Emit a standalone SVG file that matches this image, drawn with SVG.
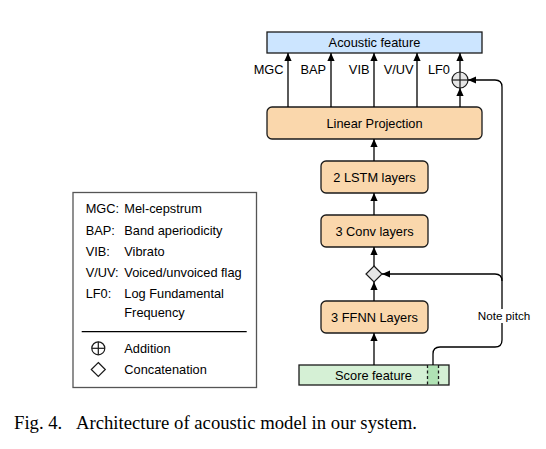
<svg xmlns="http://www.w3.org/2000/svg" width="546" height="449" viewBox="0 0 546 449">
<style>
.t{font-family:"Liberation Sans",Arial,sans-serif;font-size:12.8px;fill:#000}
.c{text-anchor:middle}
.e{text-anchor:end}
.box{fill:#fad7ac;stroke:#1a1a1a;stroke-width:1.3}
.ln{fill:none;stroke:#000;stroke-width:1.3}
.arr{fill:none;stroke:#000;stroke-width:1.3;marker-end:url(#ah)}
.cap{font-family:"Liberation Serif","Times New Roman",serif;font-size:18.7px;fill:#000}
</style>
<defs>
<marker id="ah" markerWidth="8" markerHeight="8" refX="8" refY="4" orient="auto" markerUnits="userSpaceOnUse">
<path d="M0,0.4 L8,4 L0,7.6 z" fill="#000"/>
</marker>
</defs>
<rect width="546" height="449" fill="#fff"/>

<g id="acoustic-feature">
<rect x="267" y="32" width="215" height="21" fill="#cce5ff" stroke="#1a1a1a" stroke-width="1.3"/>
<text class="t c" x="374.5" y="47">Acoustic feature</text>
</g>
<g id="linear-projection">
<rect class="box" x="267" y="107" width="215" height="32" rx="5"/>
<text class="t c" x="374.5" y="127.5">Linear Projection</text>
</g>
<g id="lstm">
<rect class="box" x="321" y="161" width="107" height="32" rx="5"/>
<text class="t c" x="374.5" y="181.5">2 LSTM layers</text>
</g>
<g id="conv">
<rect class="box" x="321" y="215" width="107" height="32" rx="5"/>
<text class="t c" x="374.5" y="235.5">3 Conv layers</text>
</g>
<g id="concat">
<path d="M374,266 L382,274 L374,282 L366,274 z" fill="#e6e6e6" stroke="#1a1a1a" stroke-width="1.2"/>
</g>
<g id="ffnn">
<rect class="box" x="321" y="301" width="107" height="32" rx="5"/>
<text class="t c" x="374.5" y="321.5">3 FFNN Layers</text>
</g>
<g id="score-feature">
<rect x="299" y="365" width="150" height="20" fill="#d5f0d5" stroke="#1a1a1a" stroke-width="1.3"/>
<rect x="427.5" y="365.7" width="11" height="18.6" fill="#b0e2b4" stroke="none"/>
<line x1="427.5" y1="365" x2="427.5" y2="385" stroke="#1a1a1a" stroke-width="1.3" stroke-dasharray="3,2.5"/>
<line x1="438.5" y1="365" x2="438.5" y2="385" stroke="#1a1a1a" stroke-width="1.3" stroke-dasharray="3,2.5"/>
<text class="t c" x="373.5" y="380">Score feature</text>
</g>
<g id="addition">
<circle cx="460" cy="80" r="8" fill="#e6e6e6" stroke="#1a1a1a" stroke-width="1.2"/>
<line x1="452" y1="80" x2="468" y2="80" stroke="#1a1a1a" stroke-width="1.2"/>
<line x1="460" y1="72" x2="460" y2="88" stroke="#1a1a1a" stroke-width="1.2"/>
</g>

<g id="connectors">
<line class="arr" x1="288" y1="107" x2="288" y2="53"/>
<line class="arr" x1="331" y1="107" x2="331" y2="53"/>
<line class="arr" x1="374" y1="107" x2="374" y2="53"/>
<line class="arr" x1="417" y1="107" x2="417" y2="53"/>
<line class="arr" x1="460" y1="107" x2="460" y2="88"/>
<line class="arr" x1="460" y1="72" x2="460" y2="53"/>
<line class="arr" x1="374" y1="161" x2="374" y2="139"/>
<line class="arr" x1="374" y1="215" x2="374" y2="193"/>
<line class="arr" x1="374" y1="266" x2="374" y2="247"/>
<line class="arr" x1="374" y1="301" x2="374" y2="282"/>
<line class="arr" x1="374" y1="365" x2="374" y2="333"/>
<path class="arr" d="M433,365 L433,354 Q433,347 440,347 L495,347 Q502,347 502,340 L502,87 Q502,80 495,80 L468,80"/>
<path class="arr" d="M502,281 Q502,274 495,274 L382,274"/>
<text class="t e" x="283.5" y="74">MGC</text>
<text class="t e" x="326" y="74">BAP</text>
<text class="t e" x="369.5" y="74">VIB</text>
<text class="t e" x="413.5" y="74">V/UV</text>
<text class="t e" x="450" y="74">LF0</text>
<rect x="478" y="309" width="52" height="14" fill="#fff"/>
<text class="t c" x="504" y="320" style="font-size:11.7px">Note pitch</text>
</g>

<g id="legend">
<rect x="73" y="192.5" width="183.5" height="195" fill="#fff" stroke="#555" stroke-width="1.3"/>
<text class="t" x="85.7" y="213.3">MGC:</text><text class="t" x="124.3" y="213.3">Mel-cepstrum</text>
<text class="t" x="85.7" y="235">BAP:</text><text class="t" x="124.3" y="235">Band aperiodicity</text>
<text class="t" x="85.7" y="256">VIB:</text><text class="t" x="124.3" y="256">Vibrato</text>
<text class="t" x="85.7" y="277.3">V/UV:</text><text class="t" x="124.3" y="277.3">Voiced/unvoiced flag</text>
<text class="t" x="85.7" y="298.3">LF0:</text><text class="t" x="124.3" y="298.3">Log Fundamental</text>
<text class="t" x="124.3" y="316.7">Frequency</text>
<line x1="81.7" y1="331.7" x2="246.7" y2="331.7" stroke="#000" stroke-width="1.3"/>
<circle cx="98.3" cy="348.3" r="6.5" fill="#fff" stroke="#1a1a1a" stroke-width="1.2"/>
<line x1="91.8" y1="348.3" x2="104.8" y2="348.3" stroke="#1a1a1a" stroke-width="1.2"/>
<line x1="98.3" y1="341.8" x2="98.3" y2="354.8" stroke="#1a1a1a" stroke-width="1.2"/>
<text class="t" x="124.3" y="352.5">Addition</text>
<path d="M98.3,362.5 L105.3,369.5 L98.3,376.5 L91.3,369.5 z" fill="#fff" stroke="#1a1a1a" stroke-width="1.2"/>
<text class="t" x="124.3" y="373.5">Concatenation</text>
</g>

<text class="cap" y="429"><tspan x="14">Fig. 4.</tspan><tspan x="76">Architecture of acoustic model in our system.</tspan></text>
</svg>
